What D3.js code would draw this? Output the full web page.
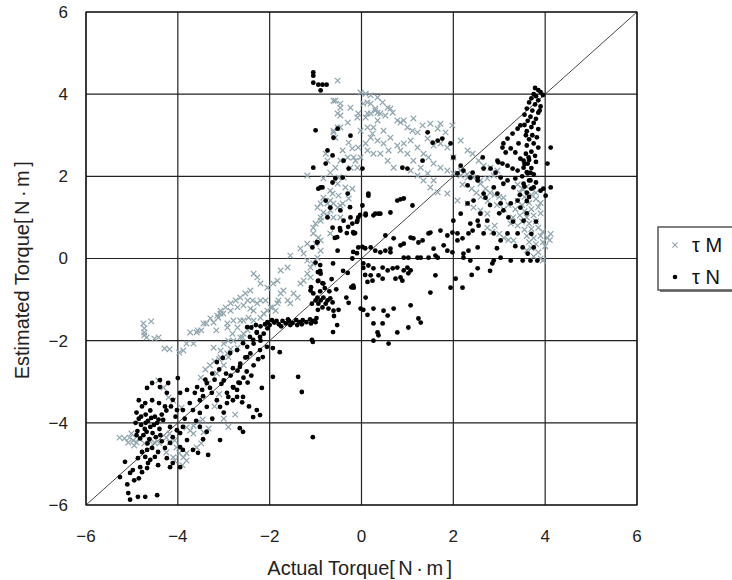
<!DOCTYPE html>
<html>
<head>
<meta charset="utf-8">
<script src="https://cdn.jsdelivr.net/npm/d3@7"></script>
<style>
  body { margin: 0; background: #fff; }
  svg { font-family: "Liberation Sans", Arial, sans-serif; }
</style>
</head>
<body>
<svg id="chart" width="732" height="580"></svg>
<script>
// tick values for both axes
const ticks = [-6, -4, -2, 0, 2, 4, 6];
const seriesNames = ["τ M", "τ N"];

// τM estimated torque (gray crosses), [actual, estimated]
const tauM = [
  [-4.75,-1.58],[-4.58,-1.53],[-4.73,-1.7],[-4.73,-1.8],[-4.73,-1.87],[-4.68,-1.92],[-4.51,-1.95],[-4.42,-1.92],
  [-4.29,-2.19],[-4.18,-2.21],[-3.97,-2.29],[-3.88,-2.24],[-3.81,-2.07],[-3.66,-2.07],[-3.59,-1.8],[-3.49,-1.75],
  [-3.38,-1.58],[-3.22,-1.56],[-3.12,-1.44],[-3.01,-1.34],[-3.16,-1.75],
  [-5.27,-4.36],[-5.16,-4.38],[-5.05,-4.36],[-4.97,-4.43],[-4.9,-4.48],[-4.84,-4.38],[-4.73,-4.5],[-4.62,-4.43],
  [-4.51,-4.48],[-4.4,-4.5],[-4.25,-4.36],[-4.18,-4.48],[-5.08,-4.48],[-4.95,-4.55],[-5.01,-4.26],
  [-4.18,-4.26],[-4.07,-4.43],[-4.03,-4.6],[-3.97,-4.74],[-3.88,-4.84],[-3.81,-4.74],[-4.1,-4.84],[-4.25,-4.72],
  [-3.81,-4.92],[-4.07,-4.92],[-3.9,-5.03],
  [-4.42,-2.97],[-4.31,-3.14],[-4.2,-3.38],[-4.1,-3.46],[-3.92,-3.63],[-3.81,-4.11],[-3.66,-4.26],[-3.49,-4.5],
  [-3.44,-4.23],[-3.59,-4.6],[-3.33,-4.14],[-3.73,-4.19],[-3.66,-4.07],[-3.57,-3.99],[-3.46,-3.92],
  [-3.2,-3.6],[-3.0,-3.9],[-2.9,-4.1],[-2.75,-3.8],[-3.1,-3.3],
  [-3.5,-2.9],[-3.4,-2.7],[-3.3,-2.6],[-3.2,-2.5],[-3.1,-2.45],[-3.0,-2.6],[-2.9,-2.4],[-3.15,-2.8],[-2.85,-2.2],[-3.35,-3.05],
  [-3.73,-1.8],[-3.57,-1.75],[-3.44,-1.58],[-3.29,-1.46],[-3.14,-1.39],[-3.07,-1.34],[-2.92,-1.58],[-2.85,-1.27],
  [-2.7,-1.19],[-2.57,-1.14],[-2.48,-1.02],[-2.42,-1.22],[-2.27,-1.09],[-2.2,-1.02],
  [-3.22,-2.17],[-3.07,-2.24],[-3.0,-2.07],[-2.92,-2.31],[-2.79,-2.0],[-2.7,-2.17],[-2.64,-1.92],[-2.57,-1.83],
  [-2.48,-1.75],[-2.42,-1.68],[-2.35,-1.51],[-2.2,-1.44],[-2.13,-1.34],[-2.05,-1.27],[-1.94,-1.19],[-1.83,-1.09],
  [-2.81,-1.83],[-2.7,-1.68],[-2.57,-1.51],[-2.46,-1.44],[-2.35,-1.27],
  [-3.07,-1.27],[-2.96,-1.19],[-2.85,-1.09],[-2.74,-1.02],[-2.64,-0.95],[-2.53,-0.85],[-2.42,-0.78],[-2.35,-0.37],
  [-2.27,-0.46],[-2.2,-0.61],[-2.37,-1.02],[-2.09,-1.02],[-2.05,-0.71],[-1.92,-0.61],[-1.83,-0.54],[-1.76,-0.29],
  [-1.61,-0.22],[-1.55,0.07],[-1.33,0.24],[-1.26,0.12],[-1.18,-0.05],[-1.11,-0.22],[-1.05,-0.12],[-0.96,0.02],
  [-0.89,0.19],[-1.0,0.36],[-1.05,0.61],[-0.94,0.51],[-1.0,0.85],[-0.89,0.92],[-0.96,1.24],[-0.74,1.34],
  [-0.68,1.17],[-0.52,1.24],[-0.46,1.29],[-1.76,-0.85],[-1.7,-0.78],[-1.61,-1.02],[-1.55,-1.09],[-1.48,-0.85],
  [-1.39,-0.95],[-1.33,-0.61],[-1.26,-0.54],[-1.18,-0.37],[-1.11,-0.46],[-1.98,-1.19],[-1.87,-1.27],[-1.81,-1.02],
  [-2.92,-1.68],[-2.59,-1.92],[-2.79,-1.51],[-2.64,-1.51],[-2.9,-2.0],[-3.07,-2.41],
  [-0.52,4.33],[-0.57,3.84],[-0.46,3.67],[-0.24,3.67],[-0.46,3.48],[-0.02,4.04],[0.09,4.01],[0.2,3.97],
  [0.35,3.92],[0.04,3.77],[0.13,3.8],[0.3,3.65],[-0.07,3.53],[0.09,3.43],[0.2,3.53],[0.35,3.36],[0.26,3.19],
  [0.13,3.19],[-0.02,3.11],[0.2,2.94],[0.35,2.87],[0.09,2.8],[-0.07,2.7],[0.13,2.63],[0.26,2.55],[-0.02,2.46],
  [-0.61,3.11],[-0.57,2.94],[-0.52,3.19],[-0.41,2.63],[-0.28,2.82],[-0.2,2.68],[-0.13,2.38],[-0.09,2.21],
  [-0.3,2.46],[-0.46,2.38],[-0.74,2.38],[-0.78,2.55],[-0.83,1.95],[-0.68,2.09],[-0.57,2.21],[-0.5,1.97],
  [-0.35,1.73],[-0.2,1.7],[-0.28,1.46],[-0.5,1.53],[-0.63,1.58],[-0.68,1.41],[-0.89,1.34],[-0.83,1.12],
  [-0.74,1.05],[-0.61,1.0],[-0.41,1.34],[-1.18,2.02],
  [0.46,3.8],[0.57,3.67],[0.63,3.65],[0.2,3.77],[0.3,3.6],[0.41,3.53],[0.52,3.48],[0.68,3.55],[0.78,3.36],
  [0.85,3.31],[0.92,3.36],[1.13,3.41],[1.0,3.19],[1.11,3.11],[1.22,3.07],[1.33,3.24],[1.5,3.28],[1.66,3.16],
  [1.72,3.28],[1.83,3.07],[1.98,3.24],[1.44,2.92],[1.57,2.75],[1.72,2.8],[1.87,2.7],[2.0,2.46],[2.16,2.87],
  [2.31,2.63],[2.42,2.55],[2.55,2.38],[2.66,2.26],[2.81,2.21],[2.96,2.14],[1.22,2.7],[1.35,2.55],[1.46,2.46],
  [1.57,2.31],[1.72,2.21],[1.87,2.14],[2.0,2.07],[2.16,2.02],[2.31,1.97],[2.44,1.97],[2.59,1.9],[2.74,1.95],
  [2.88,2.02],[0.85,2.63],[0.92,2.8],[1.07,2.87],[1.0,2.55],[1.13,2.38],[1.29,2.21],[1.44,2.07],[1.57,1.9],
  [1.07,2.14],[1.22,2.02],[1.35,1.9],[1.5,1.73],[1.66,1.61],[1.87,1.58],[2.09,1.41],[2.31,1.34],[2.44,1.24],
  [2.59,1.17],[2.74,1.09],[0.41,2.55],[0.57,2.38],[0.7,2.21],[0.48,3.11],[0.63,2.94],[0.78,2.75],[0.24,3.04],
  [0.48,2.8],[0.59,2.63],[-0.17,2.46],[-0.24,2.21],[-0.39,1.97],[-0.52,1.82],[-0.68,1.65],[-0.83,1.48],
  [-0.61,1.34],[-0.89,1.0],[-0.46,1.0],[-1.05,0.75],[-1.18,0.36],[-0.89,0.44],[-0.68,0.61],[0.35,3.55],
  [0.13,3.53],[-0.09,3.43],[-0.3,3.31],[-0.46,3.19],[-0.61,3.07],[-0.52,3.53],[-0.46,3.77],[-0.61,3.84],
  [3.4,1.8],[3.5,1.7],[3.6,1.75],[3.45,1.6],[3.55,1.5],[3.7,1.55],[3.4,1.4],[3.5,1.3],[3.65,1.35],[3.8,1.45],
  [3.35,1.2],[3.55,1.15],[3.7,1.2],[3.85,1.25],[3.45,1.05],[3.6,1.0],[3.75,1.05],[3.9,1.1],[3.5,0.9],[3.65,0.85],
  [3.8,0.9],[3.4,0.8],[3.55,0.7],[3.7,0.72],[3.85,0.75],[3.6,0.55],[3.75,0.5],[3.9,0.55],[3.65,0.4],[3.8,0.35],
  [3.95,0.4],[4.05,0.5],[4.12,0.6],[4.0,0.3],[3.7,0.25],[3.85,0.15],[3.75,0.05],[3.9,0.0],[3.95,-0.05],[3.6,0.2],
  [3.3,1.0],[3.2,1.3],[3.25,0.85],[4.1,0.45],[3.95,0.65],[3.8,1.6],[3.9,1.35],
  [2.59,1.82],[2.7,1.7],[2.8,1.6],[2.9,1.55],[3.0,1.5],[3.09,1.48],[2.75,1.4],[2.95,1.3],[3.1,1.2],[2.74,0.75],
  [2.85,0.65],[3.0,0.6],[3.1,0.5],[3.2,0.45],[3.31,0.44],[2.9,0.8],[2.16,2.14],[2.3,2.05],[2.2,1.8],[2.4,1.7],
  [2.5,1.6],[2.6,1.5]
];

// τN estimated torque (black dots), [actual, estimated]
const tauN = [
  [-5.04,-5.87],[-4.87,-5.8],[-4.71,-5.8],[-4.45,-5.76],[-5.08,-5.71],[-5.1,-5.5],[-4.95,-5.4],[-4.85,-5.35],
  [-5.26,-5.32],[-5.15,-4.95],[-5.04,-5.22],[-4.98,-5.15],[-4.82,-5.08],[-4.78,-5.2],[-4.67,-5.1],[-4.65,-4.98],
  [-4.87,-4.86],[-4.71,-4.83],[-4.6,-4.9],[-4.5,-4.83],[-4.78,-4.71],[-4.67,-4.66],[-4.56,-4.61],[-4.43,-4.71],
  [-4.28,-4.61],
  [-4.9,-3.75],[-4.85,-3.9],[-4.8,-4.05],[-4.88,-4.2],[-4.75,-4.3],[-4.7,-3.8],[-4.65,-3.95],[-4.6,-4.1],
  [-4.72,-4.15],[-4.55,-4.25],[-4.5,-3.85],[-4.45,-4.0],[-4.4,-4.15],[-4.35,-3.8],[-4.6,-3.7],[-4.78,-3.6],
  [-4.92,-4.0],[-4.82,-4.38],[-4.62,-4.4],[-4.48,-4.35],[-4.38,-4.3],[-4.68,-4.22],[-4.52,-4.05],[-4.42,-3.92],
  [-4.58,-3.88],[-4.8,-3.85],[-4.7,-4.0],[-4.9,-4.3],[-4.66,-4.5],[-4.35,-4.45],
  [-4.85,-3.45],[-4.71,-3.52],[-4.56,-3.45],[-4.41,-3.52],[-4.28,-3.6],[-4.67,-3.15],[-4.56,-3.03],[-4.39,-2.96],
  [-4.21,-3.03],[-4.39,-3.13],[-4.0,-2.91],[-4.24,-3.27],[-4.11,-3.44],[-3.95,-3.27],[-4.02,-3.69],[-3.89,-3.69],
  [-3.74,-3.52],[-4.32,-3.93],[-4.17,-4.1],[-4.02,-4.18],[-3.89,-4.1],[-4.11,-4.35],[-3.95,-4.25],[-3.8,-4.42],
  [-4.17,-4.49],[-4.24,-4.86],[-4.11,-4.98],[-3.95,-5.08],[-4.17,-5.08],[-4.43,-5.03],
  [-3.67,-3.69],[-3.52,-3.76],[-3.37,-3.61],[-3.52,-3.45],[-3.63,-3.27],[-3.8,-3.2],[-3.58,-3.13],[-3.47,-3.2],
  [-3.37,-3.03],[-3.26,-3.27],[-3.15,-3.45],[-3.08,-3.61],[-2.93,-3.52],[-2.8,-3.45],[-2.71,-3.37],[-3.52,-4.1],
  [-3.37,-4.22],[-3.67,-4.66],[-3.56,-4.73],[-3.34,-4.78],[-3.95,-4.59],[-3.89,-4.66],[-3.08,-4.42],[-2.65,-4.13],
  [-2.58,-4.22],[-2.36,-3.86],[-2.28,-3.69],[-2.21,-3.81],[-2.93,-3.27],[-2.9,-3.37],[-2.8,-3.13],[-2.71,-3.2],
  [-2.65,-3.03],[-2.58,-3.37],
  [-3.45,-3.35],[-3.3,-3.15],[-3.2,-2.95],[-3.05,-3.05],[-2.95,-2.8],[-3.1,-2.7],[-3.25,-2.8],[-3.4,-2.95],
  [-2.5,-2.75],[-2.35,-2.6],[-2.25,-2.45],[-2.4,-2.85],[-2.6,-3.5],[-2.45,-3.6],[-3.0,-3.75],[-3.25,-3.9],
  [-3.6,-3.95],[-3.45,-4.4],[-4.25,-3.7],[-4.05,-3.85],[-3.85,-3.9],[-4.15,-3.6],
  [-3.15,-2.52],[-3.02,-2.42],[-2.86,-2.3],[-2.71,-2.23],[-2.58,-2.06],[-2.49,-2.15],[-2.43,-1.91],[-2.36,-1.98],
  [-2.28,-1.81],[-2.49,-2.4],[-2.65,-2.64],[-2.8,-2.67],[-2.21,-2.23],[-2.15,-2.4],[-2.06,-2.15],[-1.93,-2.18],
  [-1.78,-2.28],[-1.93,-2.88],[-1.38,-2.88],[-1.3,-3.25],[-1.06,-4.35],[-2.49,-1.67],[-2.28,-1.79],[-2.21,-1.91],
  [-1.06,-2.03],[-3.0,-2.97],[-2.85,-2.85],[-2.7,-2.73],[-2.64,-2.56],[-2.53,-2.41],[-2.42,-2.31],[-2.35,-2.07],
  [-2.2,-2.0],[-2.13,-1.83],[-2.05,-1.7],[-2.68,-3.02],[-2.79,-3.14],[-2.57,-2.9],[-2.48,-3.02],[-2.17,-3.15],
  [-2.4,-1.68],[-2.3,-1.62],[-2.2,-1.65],[-2.1,-1.6],[-2.0,-1.62],[-1.9,-1.56],[-1.8,-1.6],[-1.72,-1.52],
  [-1.65,-1.58],[-1.58,-1.52],[-1.5,-1.57],[-1.42,-1.5],[-1.35,-1.55],[-1.28,-1.5],[-1.2,-1.55],[-1.12,-1.48],
  [-1.05,-1.52],[-0.98,-1.45],[-1.95,-1.5],[-1.75,-1.65],[-1.55,-1.62],[-1.3,-1.6],[-1.1,-1.58],[-2.05,-1.55],
  [-1.85,-1.52],[-1.6,-1.48],[-1.4,-1.62],[-1.0,-1.55],
  [-1.11,-0.78],[-1.05,-0.85],[-0.96,-0.95],[-0.89,-1.02],[-0.83,-0.95],[-0.74,-1.02],[-0.68,-0.97],[-1.0,-1.02],
  [-0.94,-1.1],[-0.85,-1.19],[-0.78,-1.1],[-0.72,-1.22],[-0.63,-1.07],[-0.61,-1.27],[-1.1,-0.7],[-0.9,-0.8],
  [-0.8,-0.72],[-0.7,-0.8],[-1.08,-1.1],[-0.95,-1.25],[-0.85,-0.6],[-0.95,-0.55],[-0.9,-0.3],[-0.65,-0.5],
  [-0.55,-0.75],[-0.5,-1.25],[-0.6,-1.4],[-0.53,-1.62],[-0.62,-1.79],[-1.08,-1.98],[-0.89,-0.37],[-0.94,-0.54],
  [-0.83,-0.61],[-1.0,-0.1],[-0.9,-0.16],[-0.95,-0.33],[-0.62,-0.12],
  [-0.25,1.25],[-0.03,1.06],[-0.1,0.89],[-0.29,0.77],[-0.47,0.74],[-0.53,0.52],[-0.58,0.5],[-0.18,0.64],
  [-0.14,0.62],[-0.32,0.62],[-0.97,0.4],[-0.18,0.16],[-0.1,0.13],[-0.2,0.0],[0.02,0.28],[0.08,0.25],
  [0.04,-0.23],[0.08,-0.4],[0.13,-0.57],[0.04,-1.25],[0.13,-1.37],[-0.4,-0.3],[-0.3,-0.35],[-0.18,-0.66],
  [-0.22,-0.7],[-0.33,-0.95],[-0.28,-1.08],
  [0.15,1.58],[0.78,1.41],[0.85,1.44],[0.92,1.46],[1.11,1.29],[0.63,1.12],[0.09,1.09],[0.3,1.09],[0.41,1.09],
  [-0.2,0.85],[-0.09,0.92],[-1.05,4.53],[-1.05,4.45],[-1.05,4.28],[-0.94,4.23],[-0.85,4.23],[-0.76,4.23],
  [-0.89,4.09],[-1.0,3.12],[-0.61,2.94],[-0.52,3.16],[-0.24,2.99],[-0.74,2.63],[-0.63,2.51],[-0.39,2.38],
  [-1.05,2.21],[-0.78,2.31],[-0.28,2.19],[0.02,2.19],[-0.57,1.95],[-0.41,1.97],[-0.89,1.73],[-0.63,1.85],
  [-0.3,1.58],[0.15,1.53],[-0.78,1.41],[-0.68,1.24],[-0.46,1.17],[-0.39,0.92],[-0.24,1.0],[-0.17,0.61],
  [-0.46,0.68],[-0.63,0.75],[-0.74,1.0],[-0.96,0.39],[-1.07,0.27],[-0.52,0.19],[-0.94,1.7],[-0.85,1.73],
  [-0.07,1.0],[0.02,1.29],[0.09,1.05],[0.26,1.05],[0.37,1.09],
  [1.44,3.07],[1.55,2.82],[1.66,2.87],[1.76,2.92],[1.33,2.38],[1.0,2.19],[0.89,2.21],[1.94,2.8],[2.0,2.46],
  [2.16,2.26],[2.42,2.09],[2.53,1.97],
  [1.5,0.63],[1.46,0.61],[1.33,0.44],[1.24,0.39],[1.13,0.49],[1.07,0.51],[1.72,0.68],[1.87,0.56],[1.98,0.63],
  [2.09,0.44],[2.2,0.49],[2.33,0.61],[2.42,0.68],[2.55,0.8],[2.53,0.92],[2.37,0.85],[0.52,0.56],[0.7,0.49],
  [0.85,0.32],[0.92,0.36],[0.2,0.27],[0.3,0.19],[0.41,0.15],[0.52,0.19],[0.63,0.15],[0.63,0.24],[-0.07,0.27],
  [0.92,0.02],[1.02,0.02],[1.22,0.02],[1.29,0.02],[1.46,0.02],[1.61,0.07],[1.66,0.02],[1.79,0.32],[1.87,0.19],
  [1.98,0.15],[1.57,0.24],[2.22,0.12],[2.33,0.19],[2.37,-0.05],[2.53,-0.24],
  [0.04,-0.12],[0.15,-0.17],[0.26,-0.24],[0.37,-0.41],[0.46,-0.22],[0.68,-0.24],[0.57,-0.29],[0.74,-0.49],
  [0.85,-0.46],[0.89,-0.54],[1.0,-0.22],[1.02,-0.36],[1.07,-0.29],[0.92,-0.29],[0.78,-0.22],[0.2,-0.41],
  [0.46,-0.49],[0.24,-0.54],[1.61,-0.41],[1.5,-0.83],[1.94,-0.71],[2.2,-0.71],[2.05,-0.49],
  [-0.17,-0.71],[0.09,-0.95],[-0.02,-1.22],[0.26,-1.22],[0.48,-1.27],[0.57,-1.39],[0.7,-1.22],[1.07,-1.14],
  [1.24,-1.46],[1.29,-1.56],[1.02,-1.68],[0.78,-1.8],[0.26,-1.58],[0.46,-1.58],[0.35,-1.8],[0.37,-1.87],
  [0.26,-2.0],[0.59,-2.07],
  [3.18,2.92],[3.09,2.8],[3.07,2.7],[3.25,2.68],[3.14,2.58],[3.42,2.8],[3.35,2.58],[3.46,2.43],[3.53,2.38],
  [3.62,2.31],[3.64,2.46],[2.96,2.38],[2.98,2.34],[3.07,2.31],[3.18,2.26],[3.29,2.19],[3.4,2.14],[3.53,2.21],
  [3.62,2.07],[3.68,2.09],[2.64,2.46],[2.66,2.19],[2.81,2.19],[2.92,2.09],[3.03,1.97],[3.18,1.9],[3.35,1.95],
  [3.53,1.82],[3.68,1.9],[3.75,1.73],[3.9,1.65],[4.05,2.31],[4.12,1.73],[4.01,1.53],[3.46,3.24],[3.29,3.04],
  [3.4,3.16],
  [3.85,4.1],[3.9,4.05],[3.75,4.0],[3.8,3.95],[3.95,3.98],[3.7,3.9],[3.85,3.85],[3.65,3.8],[3.78,3.75],
  [3.9,3.7],[3.6,3.65],[3.72,3.6],[3.85,3.55],[3.55,3.5],[3.68,3.45],[3.8,3.4],[3.62,3.35],[3.75,3.3],
  [3.55,3.25],[3.7,3.2],[3.85,3.15],[3.6,3.1],[3.72,3.0],[3.82,2.95],[3.65,2.9],[3.75,2.8],[3.6,2.75],
  [3.85,2.7],[3.7,2.6],[3.58,2.55],[3.78,2.5],[3.65,2.4],[3.8,2.35],[3.55,2.3],[3.7,2.2],[3.6,2.1],[3.75,2.05],
  [3.5,2.0],[3.65,1.9],[3.8,1.85],[3.55,1.75],[3.7,1.7],[3.6,1.6],[3.45,1.55],[3.65,1.5],[3.78,4.15],
  [3.88,3.6],[3.58,3.0],
  [2.09,2.07],[2.22,2.14],[2.37,1.97],[2.53,1.9],[2.66,1.58],[2.88,1.73],[2.96,1.58],[3.03,1.34],[3.09,1.17],
  [3.2,1.0],[3.09,1.82],[3.31,1.73],[3.4,1.41],[3.46,1.24],[3.53,0.92],[3.4,0.61],[3.51,0.27],[3.62,0.12],
  [3.68,-0.05],[3.25,-0.05],[3.03,0.02],[2.85,-0.12],[2.22,0.02],[2.09,0.61],[2.0,0.92],[2.16,1.09],
  [2.31,1.34],[2.44,1.41],[2.59,1.09],[2.74,0.92],[2.88,0.61],[2.66,0.61],[2.53,0.27],[3.03,0.44],[3.18,0.61],
  [3.75,0.27],[4.12,2.7],[3.96,1.7],[2.31,1.78],[2.7,1.48],[3.25,1.34],[2.88,-0.05],[3.51,-0.05],[3.83,-0.05],
  [2.4,-0.4],[2.8,-0.3],[3.0,1.1],[2.8,1.3],[3.3,0.9],[3.6,1.1],[3.7,0.6],[3.8,0.9],[3.35,0.3],[2.95,0.25],
  [3.6,1.4]
];

const svg = d3.select("#chart");
const margin = { left: 86, top: 12, right: 95, bottom: 75 };
const w = 732 - margin.left - margin.right;
const h = 580 - margin.top - margin.bottom;

const x = d3.scaleLinear().domain([-6, 6]).range([margin.left, margin.left + w]);
const y = d3.scaleLinear().domain([-6, 6]).range([margin.top + h, margin.top]);

// grid
const grid = svg.append("g").attr("stroke", "#222").attr("stroke-width", 1.2);
grid.selectAll("line.v").data(ticks).join("line")
  .attr("x1", (d) => x(d)).attr("x2", (d) => x(d))
  .attr("y1", y(-6)).attr("y2", y(6));
grid.selectAll("line.h").data(ticks).join("line")
  .attr("y1", (d) => y(d)).attr("y2", (d) => y(d))
  .attr("x1", x(-6)).attr("x2", x(6));

// y = x reference line
svg.append("line")
  .attr("x1", x(-6)).attr("y1", y(-6)).attr("x2", x(6)).attr("y2", y(6))
  .attr("stroke", "#333").attr("stroke-width", 0.9);

const grayCol = "#8fa4ac";
const cross = (g, cx, cy, s) => {
  g.append("path")
    .attr("d", `M${cx - s},${cy - s}L${cx + s},${cy + s}M${cx - s},${cy + s}L${cx + s},${cy - s}`);
};

const gM = svg.append("g").attr("stroke", grayCol).attr("stroke-width", 1.2).attr("fill", "none");
tauM.forEach((d) => cross(gM, x(d[0]), y(d[1]), 2.8));

svg.append("g").selectAll("circle").data(tauN).join("circle")
  .attr("cx", (d) => x(d[0])).attr("cy", (d) => y(d[1]))
  .attr("r", 2.4).attr("fill", "#000");

// frame
svg.append("rect")
  .attr("x", x(-6)).attr("y", y(6)).attr("width", w).attr("height", h)
  .attr("fill", "none").attr("stroke", "#111").attr("stroke-width", 1.2);

// tick labels
const fmt = (d) => (d < 0 ? "−" + Math.abs(d) : String(d));
svg.append("g").selectAll("text").data(ticks).join("text")
  .attr("x", (d) => x(d)).attr("y", 542)
  .attr("text-anchor", "middle").attr("font-size", 17).attr("fill", "#222")
  .text(fmt);
svg.append("g").selectAll("text").data(ticks).join("text")
  .attr("x", 68).attr("y", (d) => y(d)).attr("dy", "0.35em")
  .attr("text-anchor", "end").attr("font-size", 17).attr("fill", "#222")
  .text(fmt);

// axis titles (unit part spaced out like the original's wide brackets)
const xt = svg.append("text")
  .attr("x", x(0)).attr("y", 575)
  .attr("text-anchor", "middle").attr("font-size", 20).attr("fill", "#222");
xt.append("tspan").text("Actual Torque");
xt.append("tspan").attr("letter-spacing", 3.5).text("[N·m]");

const yt = svg.append("text")
  .attr("transform", `translate(29,${y(0) + 10}) rotate(-90)`)
  .attr("text-anchor", "middle").attr("font-size", 20).attr("fill", "#222");
yt.append("tspan").text("Estimated Torque");
yt.append("tspan").attr("letter-spacing", 3.5).text("[N·m]");

// legend
const lg = svg.append("g");
lg.append("rect").attr("x", 660).attr("y", 229).attr("width", 90).attr("height", 63)
  .attr("fill", "#777");
lg.append("rect").attr("x", 658).attr("y", 227).attr("width", 90).attr("height", 63)
  .attr("fill", "#fff").attr("stroke", "#555").attr("stroke-width", 1.5);
const gl = lg.append("g").attr("stroke", grayCol).attr("stroke-width", 1.1);
cross(gl, 675, 245, 2.6);
lg.append("circle").attr("cx", 675).attr("cy", 277).attr("r", 2.3).attr("fill", "#000");
lg.selectAll("text").data(seriesNames).join("text")
  .attr("x", 692).attr("y", (d, i) => 245 + i * 32).attr("dy", "0.36em")
  .attr("font-size", 20).attr("fill", "#111")
  .text((d) => d);
</script>
</body>
</html>
